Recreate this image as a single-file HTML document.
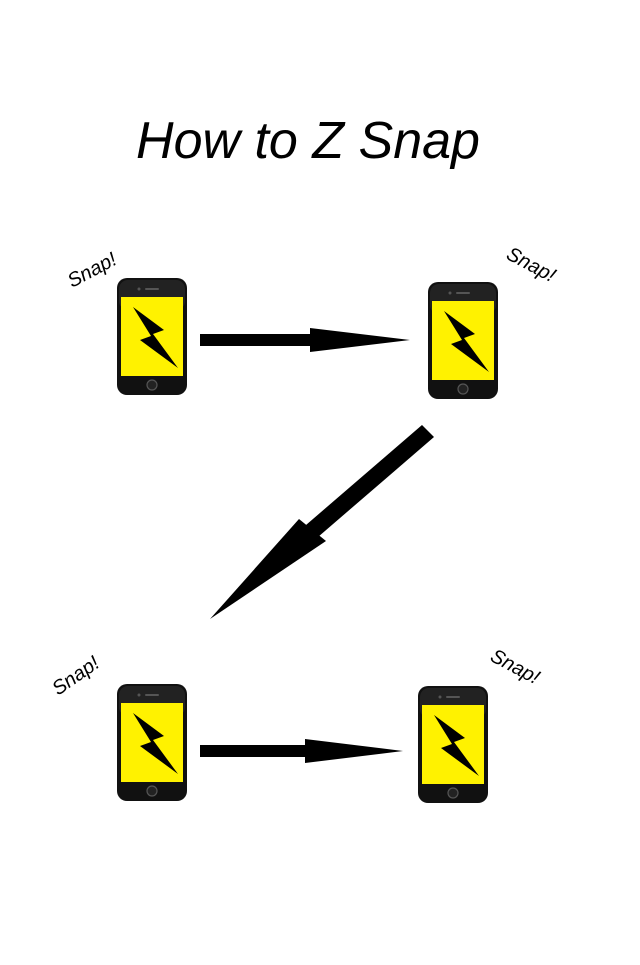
<!DOCTYPE html>
<html><head><style>
html,body{margin:0;padding:0;background:#fff;}
body{width:640px;height:960px;overflow:hidden;}
</style></head><body>
<svg width="640" height="960" viewBox="0 0 640 960" xmlns="http://www.w3.org/2000/svg">
<defs>
<g id="phone">
  <rect x="0" y="0" width="70" height="117" rx="10" fill="#111"/>
  <rect x="2" y="2" width="66" height="30" rx="9" fill="#333" opacity="0.5"/>
  <rect x="4" y="19" width="62" height="79" fill="#fff200"/>
  <rect x="28" y="10" width="14" height="2" rx="1" fill="#555"/>
  <circle cx="22" cy="11" r="1.5" fill="#555"/>
  <circle cx="35" cy="107" r="5" fill="#222" stroke="#555" stroke-width="1.2"/>
  <polygon points="16,29 47,52 36,56 61,90 23,62 34,58" fill="#000"/>
</g>
</defs>
<text x="308" y="158" text-anchor="middle" font-family="Liberation Sans, sans-serif" font-style="italic" font-size="52" fill="#000">How to Z Snap</text>

<use href="#phone" x="117" y="278"/>
<use href="#phone" x="428" y="282"/>
<use href="#phone" x="117" y="684"/>
<use href="#phone" x="418" y="686"/>

<g font-family="Liberation Sans, sans-serif" font-style="italic" font-size="20" fill="#000">
<text transform="translate(72,288) rotate(-28)">Snap!</text>
<text transform="translate(505,258) rotate(28)">Snap!</text>
<text transform="translate(58,696) rotate(-35)">Snap!</text>
<text transform="translate(489,660) rotate(28)">Snap!</text>
</g>

<rect x="200" y="334" width="115" height="12" fill="#000"/>
<polygon points="310,328 410,340 310,352" fill="#000"/>
<rect x="200" y="745" width="110" height="12" fill="#000"/>
<polygon points="305,739 403,751 305,763" fill="#000"/>

<polygon points="422,425 434,437 318,537 306,525" fill="#000"/>
<polygon points="299,519 326,541 210,619" fill="#000"/>
</svg>
</body></html>
